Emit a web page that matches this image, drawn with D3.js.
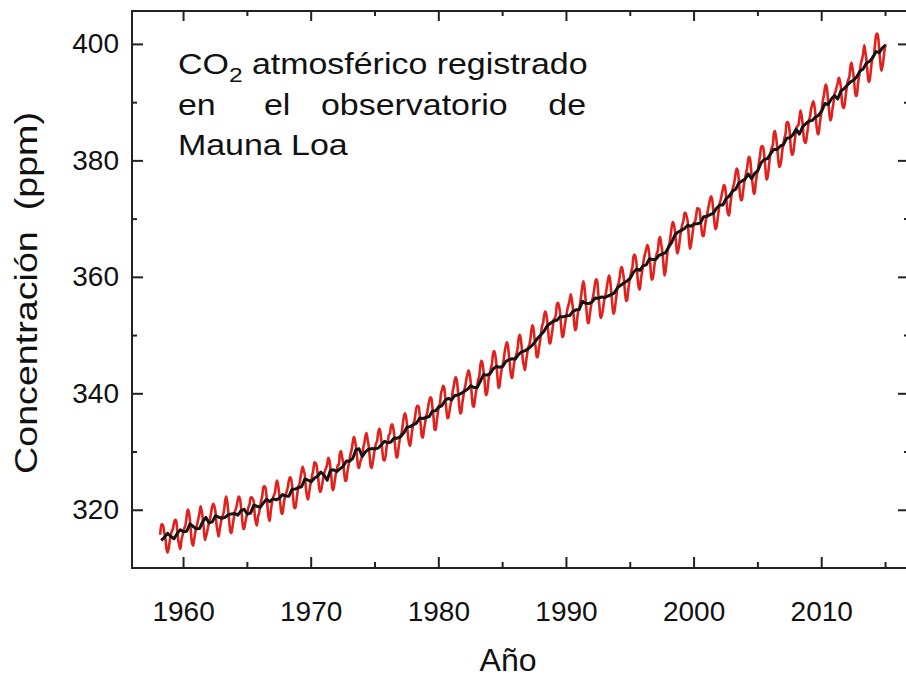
<!DOCTYPE html>
<html>
<head>
<meta charset="utf-8">
<script src="https://cdn.jsdelivr.net/npm/d3@7"></script>
<style>
  html, body { margin: 0; padding: 0; background: #fff; }
  svg { display: block; }
  text { font-family: "Liberation Sans", Arial, Helvetica, sans-serif; fill: #111; }
</style>
</head>
<body>
<svg id="chart" width="906" height="679"></svg>
<script>
// Mauna Loa monthly mean CO2 (ppm), one row per year, Jan..Dec
const firstYear = 1958;
const monthlyPpm = [
  [null, null, 315.71, 317.45, 317.50, 317.10, 315.86, 314.93, 313.20, 312.66, 313.33, 314.67],
  [315.62, 316.38, 316.71, 317.72, 318.29, 318.15, 316.54, 314.80, 313.84, 313.26, 314.80, 315.58],
  [316.43, 316.97, 317.58, 319.02, 320.03, 319.59, 318.18, 315.91, 314.16, 313.83, 315.00, 316.19],
  [316.93, 317.70, 318.54, 319.48, 320.58, 319.77, 318.57, 316.79, 314.80, 315.38, 316.10, 317.01],
  [317.94, 318.56, 319.68, 320.63, 321.01, 320.55, 319.58, 317.40, 316.26, 315.42, 316.69, 317.69],
  [318.74, 319.08, 319.86, 321.39, 322.25, 321.47, 319.74, 317.77, 316.21, 315.99, 317.12, 318.31],
  [319.57, 320.07, 320.73, 321.77, 322.25, 321.89, 320.44, 318.70, 316.70, 316.79, 317.79, 318.71],
  [319.44, 320.44, 320.89, 322.13, 322.16, 321.87, 321.39, 318.81, 317.81, 317.30, 318.87, 319.42],
  [320.62, 321.59, 322.39, 323.87, 324.01, 323.75, 322.39, 320.37, 318.64, 318.10, 319.79, 321.08],
  [322.07, 322.50, 323.04, 324.42, 325.00, 324.09, 322.55, 320.92, 319.31, 319.31, 320.72, 321.96],
  [322.57, 323.15, 323.89, 325.02, 325.57, 325.36, 324.14, 322.03, 320.41, 320.25, 321.31, 322.84],
  [324.00, 324.42, 325.64, 326.66, 327.38, 326.70, 325.89, 323.67, 322.38, 321.78, 322.85, 324.11],
  [325.03, 325.99, 326.87, 328.13, 328.07, 327.66, 326.35, 324.69, 323.10, 323.16, 323.98, 325.13],
  [326.17, 326.68, 327.18, 327.78, 328.92, 328.57, 327.34, 325.46, 323.36, 323.57, 324.80, 326.01],
  [326.77, 327.63, 327.75, 329.72, 330.07, 329.09, 328.05, 326.32, 324.93, 325.06, 326.50, 327.55],
  [328.54, 329.56, 330.30, 331.50, 332.48, 332.07, 330.87, 329.31, 327.51, 327.18, 328.16, 328.64],
  [329.35, 330.71, 331.48, 332.65, 333.16, 332.06, 330.99, 329.17, 327.41, 327.20, 328.33, 329.50],
  [330.68, 331.41, 331.85, 333.29, 333.91, 333.40, 331.78, 329.88, 328.57, 328.46, 329.26, 330.97],
  [331.71, 332.80, 333.10, 334.33, 334.66, 334.15, 332.92, 330.73, 328.98, 328.99, 330.42, 331.78],
  [332.75, 333.24, 334.53, 335.90, 336.57, 336.10, 334.76, 332.59, 331.42, 330.98, 332.24, 333.68],
  [334.80, 335.22, 336.47, 337.59, 337.84, 337.72, 336.37, 334.51, 332.60, 332.38, 333.75, 334.78],
  [336.05, 336.59, 337.79, 338.71, 339.30, 339.12, 337.56, 335.92, 333.75, 333.70, 335.12, 336.56],
  [337.84, 338.19, 339.91, 340.60, 341.29, 341.00, 339.39, 337.43, 335.72, 335.84, 336.93, 338.04],
  [339.06, 340.30, 341.21, 342.33, 342.74, 342.08, 340.32, 338.26, 336.52, 336.68, 338.19, 339.44],
  [340.57, 341.44, 342.53, 343.39, 343.96, 343.18, 341.88, 339.65, 337.81, 337.69, 339.09, 340.32],
  [341.20, 342.35, 342.93, 344.77, 345.58, 345.14, 343.81, 342.21, 339.69, 339.82, 340.98, 342.82],
  [343.52, 344.33, 345.11, 346.88, 347.25, 346.62, 345.22, 343.11, 340.90, 341.18, 342.80, 344.04],
  [344.79, 345.82, 347.25, 348.17, 348.74, 348.07, 346.38, 344.51, 342.92, 342.62, 344.06, 345.38],
  [346.11, 346.78, 347.68, 349.37, 350.03, 349.37, 347.76, 345.73, 344.68, 343.99, 345.48, 346.72],
  [347.84, 348.29, 349.23, 350.80, 351.66, 351.07, 349.33, 347.92, 346.27, 346.18, 347.64, 348.78],
  [350.25, 351.54, 352.05, 353.41, 354.04, 353.62, 352.22, 350.27, 348.55, 348.72, 349.91, 351.18],
  [352.60, 352.92, 353.53, 355.26, 355.52, 354.97, 353.75, 351.52, 349.64, 349.83, 351.14, 352.37],
  [353.50, 354.55, 355.23, 356.04, 357.00, 356.07, 354.67, 352.76, 350.82, 351.04, 352.69, 354.07],
  [354.59, 355.63, 357.03, 358.48, 359.22, 358.12, 356.06, 353.92, 352.05, 352.11, 353.64, 354.89],
  [355.88, 356.63, 357.72, 359.07, 359.58, 359.17, 356.94, 354.92, 352.94, 353.23, 354.09, 355.33],
  [356.63, 357.10, 358.32, 359.41, 360.23, 359.55, 357.53, 355.48, 353.67, 353.95, 355.30, 356.78],
  [358.34, 358.89, 359.95, 361.25, 361.67, 360.94, 359.55, 357.49, 355.84, 356.00, 357.59, 359.05],
  [359.98, 361.03, 361.66, 363.48, 363.82, 363.30, 361.94, 359.50, 358.11, 357.80, 359.61, 360.74],
  [362.09, 363.29, 364.06, 364.76, 365.45, 365.01, 363.70, 361.54, 359.51, 359.65, 360.80, 362.38],
  [363.23, 364.06, 364.61, 366.40, 366.84, 365.68, 364.52, 362.57, 360.24, 360.83, 362.49, 364.34],
  [365.27, 365.98, 367.24, 368.66, 369.42, 368.99, 367.82, 365.95, 364.02, 364.40, 365.52, 367.13],
  [368.18, 369.07, 369.68, 370.99, 370.96, 370.30, 369.45, 366.90, 364.81, 365.37, 366.72, 368.10],
  [369.29, 369.54, 370.60, 371.82, 371.58, 371.70, 369.86, 368.13, 367.00, 367.03, 368.37, 369.67],
  [370.59, 371.51, 372.43, 373.37, 373.85, 373.22, 371.50, 369.61, 368.18, 368.45, 369.76, 371.24],
  [372.53, 373.20, 374.12, 375.02, 375.76, 375.52, 374.01, 371.85, 370.75, 370.55, 372.25, 373.79],
  [374.88, 375.64, 376.45, 377.73, 378.60, 378.28, 376.70, 374.38, 373.17, 373.15, 374.66, 375.99],
  [377.00, 377.87, 378.88, 380.35, 380.62, 379.69, 377.47, 376.01, 374.25, 374.46, 376.16, 377.51],
  [378.46, 379.73, 380.77, 382.29, 382.45, 382.21, 380.74, 378.74, 376.70, 377.00, 378.35, 380.11],
  [381.38, 382.19, 382.67, 384.61, 385.03, 384.05, 382.46, 380.41, 378.85, 379.13, 380.15, 381.82],
  [382.89, 383.90, 384.58, 386.50, 386.56, 386.10, 384.50, 381.99, 380.96, 381.12, 382.45, 383.95],
  [385.52, 385.82, 386.03, 387.21, 388.54, 387.76, 386.36, 384.09, 383.18, 382.99, 384.19, 385.56],
  [386.94, 387.48, 388.82, 389.55, 390.14, 389.48, 388.03, 386.11, 384.74, 384.43, 386.02, 387.42],
  [388.71, 390.20, 391.17, 392.46, 393.00, 392.15, 390.20, 388.35, 386.85, 387.24, 388.67, 389.79],
  [391.33, 391.86, 392.60, 393.25, 394.19, 393.74, 392.51, 390.13, 389.08, 389.00, 390.28, 391.86],
  [393.12, 393.86, 394.40, 396.18, 396.74, 395.71, 394.36, 392.39, 391.11, 391.05, 392.98, 394.34],
  [395.55, 396.80, 397.43, 398.41, 399.78, 398.60, 397.32, 395.20, 393.45, 393.70, 395.16, 396.84],
  [397.85, 398.01, 399.77, 401.38, 401.78, 401.25, 399.10, 397.03, 395.38, 396.03, 397.28, 398.91],
  [399.98]
];

// Seasonally corrected trend (ppm), sampled in Jan, Apr, Jul and Oct of each year
const trendMonths = [0, 3, 6, 9];
const trendPpm = [
  [null, 314.75, 315.26, 315.96],
  [315.42, 315.02, 315.94, 316.56],
  [316.23, 316.32, 317.58, 317.13],
  [316.73, 316.78, 317.97, 318.68],
  [317.74, 317.93, 318.98, 318.72],
  [318.54, 318.69, 319.14, 319.29],
  [319.37, 319.07, 319.84, 320.09],
  [319.24, 319.43, 320.79, 320.60],
  [320.42, 321.17, 321.79, 321.40],
  [321.87, 321.72, 321.95, 322.61],
  [322.37, 322.32, 323.54, 323.55],
  [323.80, 323.96, 325.29, 325.08],
  [324.83, 325.43, 325.75, 326.46],
  [325.97, 325.08, 326.74, 326.87],
  [326.57, 327.02, 327.45, 328.36],
  [328.34, 328.80, 330.27, 330.48],
  [329.15, 329.95, 330.39, 330.50],
  [330.48, 330.59, 331.18, 331.76],
  [331.51, 331.63, 332.32, 332.29],
  [332.55, 333.20, 334.16, 334.28],
  [334.60, 334.89, 335.77, 335.68],
  [335.85, 336.01, 336.96, 337.00],
  [337.64, 337.90, 338.79, 339.14],
  [338.86, 339.63, 339.72, 339.98],
  [340.37, 340.69, 341.28, 340.99],
  [341.00, 342.07, 343.21, 343.12],
  [343.32, 344.18, 344.62, 344.48],
  [344.59, 345.47, 345.78, 345.92],
  [345.91, 346.67, 347.16, 347.29],
  [347.64, 348.10, 348.73, 349.48],
  [350.05, 350.71, 351.62, 352.02],
  [352.40, 352.56, 353.15, 353.13],
  [353.30, 353.34, 354.07, 354.34],
  [354.39, 355.78, 355.46, 355.41],
  [355.68, 356.37, 356.34, 356.53],
  [356.43, 356.71, 356.93, 357.25],
  [358.14, 358.55, 358.95, 359.30],
  [359.78, 360.78, 361.34, 361.10],
  [361.89, 362.06, 363.10, 362.95],
  [363.03, 363.70, 363.92, 364.13],
  [365.07, 365.96, 367.22, 367.70],
  [367.98, 368.29, 368.85, 368.67],
  [369.09, 369.12, 369.26, 370.33],
  [370.39, 370.67, 370.90, 371.75],
  [372.33, 372.32, 373.41, 373.85],
  [374.68, 375.03, 376.10, 376.45],
  [376.80, 377.65, 376.87, 377.76],
  [378.26, 379.59, 380.14, 380.30],
  [381.18, 381.91, 381.86, 382.43],
  [382.69, 383.80, 383.90, 384.42],
  [385.32, 384.51, 385.76, 386.29],
  [386.74, 386.85, 387.43, 387.73],
  [388.51, 389.76, 389.60, 390.54],
  [391.13, 390.55, 391.91, 392.30],
  [392.92, 393.48, 393.76, 394.35],
  [395.35, 395.71, 396.72, 397.00],
  [397.65, 398.68, 398.50, 399.33],
  [399.78]
];

const xMajorTicks = [1960, 1970, 1980, 1990, 2000, 2010];
const xMinorTicks = [1965, 1975, 1985, 1995, 2005, 2015];
const yMajorTicks = [320, 340, 360, 380, 400];
const yMinorTicks = [330, 350, 370, 390];

const svg = d3.select("#chart");
const frame = { left: 132, right: 908, top: 11, bottom: 568 };

const x = d3.scaleLinear().domain([1956, 2016.8]).range([frame.left, frame.right]);
const y = d3.scaleLinear().domain([310, 405.65]).range([frame.bottom, frame.top]);

// flatten the yearly rows into (time, value) points
const monthlyPoints = [];
monthlyPpm.forEach((row, i) => row.forEach((v, m) => {
  if (v != null) monthlyPoints.push({ t: firstYear + i + (m + 0.5) / 12, v });
}));
const trendPoints = [];
trendPpm.forEach((row, i) => row.forEach((v, q) => {
  if (v != null) trendPoints.push({ t: firstYear + i + (trendMonths[q] + 0.5) / 12, v });
}));

const plot = svg.append("g");
plot.append("path")
  .datum(monthlyPoints)
  .attr("fill", "none")
  .attr("stroke", "#e2211c")
  .attr("stroke-width", 2.6)
  .attr("stroke-linejoin", "round")
  .attr("d", d3.line().x(d => x(d.t)).y(d => y(d.v)).curve(d3.curveMonotoneX));

plot.append("path")
  .datum(trendPoints)
  .attr("fill", "none")
  .attr("stroke", "#141414")
  .attr("stroke-width", 3)
  .attr("stroke-linejoin", "round")
  .attr("d", d3.line().x(d => x(d.t)).y(d => y(d.v)).curve(d3.curveLinear));

// box frame
svg.append("rect")
  .attr("x", frame.left).attr("y", frame.top)
  .attr("width", frame.right - frame.left).attr("height", frame.bottom - frame.top)
  .attr("fill", "none").attr("stroke", "#222").attr("stroke-width", 2);

// inward-pointing ticks on all four sides
function styleAxis(g) {
  g.select(".domain").remove();
  g.selectAll(".tick line").attr("stroke", "#222").attr("stroke-width", 2);
  g.selectAll(".tick text")
    .attr("fill", "#0a0a0a")
    .style("font-family", '"Liberation Sans", Arial, Helvetica, sans-serif')
    .style("font-size", "28px");
}

svg.append("g").attr("transform", `translate(0,${frame.bottom})`)
  .call(d3.axisBottom(x).tickValues(xMajorTicks).tickSizeInner(-11).tickSizeOuter(0)
    .tickPadding(33).tickFormat(d3.format("d")))
  .call(styleAxis);
svg.append("g").attr("transform", `translate(0,${frame.bottom})`)
  .call(d3.axisBottom(x).tickValues(xMinorTicks).tickSizeInner(-6).tickSizeOuter(0).tickFormat(""))
  .call(styleAxis);
svg.append("g").attr("transform", `translate(0,${frame.top})`)
  .call(d3.axisTop(x).tickValues(xMajorTicks).tickSizeInner(-10).tickSizeOuter(0).tickFormat(""))
  .call(styleAxis);
svg.append("g").attr("transform", `translate(0,${frame.top})`)
  .call(d3.axisTop(x).tickValues(xMinorTicks).tickSizeInner(-5).tickSizeOuter(0).tickFormat(""))
  .call(styleAxis);

svg.append("g").attr("transform", `translate(${frame.left},0)`)
  .call(d3.axisLeft(y).tickValues(yMajorTicks).tickSizeInner(-11).tickSizeOuter(0)
    .tickPadding(13).tickFormat(d3.format("d")))
  .call(styleAxis);
svg.append("g").attr("transform", `translate(${frame.left},0)`)
  .call(d3.axisLeft(y).tickValues(yMinorTicks).tickSizeInner(-5).tickSizeOuter(0).tickFormat(""))
  .call(styleAxis);
svg.append("g").attr("transform", `translate(${frame.right},0)`)
  .call(d3.axisRight(y).tickValues(yMajorTicks).tickSizeInner(-10).tickSizeOuter(0).tickFormat(""))
  .call(styleAxis);
svg.append("g").attr("transform", `translate(${frame.right},0)`)
  .call(d3.axisRight(y).tickValues(yMinorTicks).tickSizeInner(-4).tickSizeOuter(0).tickFormat(""))
  .call(styleAxis);

// axis titles
svg.append("text")
  .attr("x", 508).attr("y", 671)
  .attr("text-anchor", "middle")
  .style("font-size", "32px")
  .text("Año");

svg.append("text")
  .attr("transform", "translate(37,293) rotate(-90)")
  .attr("text-anchor", "middle")
  .attr("textLength", 362)
  .attr("lengthAdjust", "spacingAndGlyphs")
  .style("font-size", "32px")
  .style("white-space", "pre")
  .text("Concentración  (ppm)");

// annotation
const note = svg.append("g").style("font-size", "29px");
const sx = 1.17;
const l1 = note.append("text").attr("transform", `translate(178,74) scale(${sx},1)`);
l1.append("tspan").text("CO");
l1.append("tspan").attr("dy", 8).style("font-size", "21px").text("2");
l1.append("tspan").attr("dy", -8).text(" atmosférico registrado");

const line2 = [
  { w: "en", x: 178, anchor: "start" },
  { w: "el", x: 264, anchor: "start" },
  { w: "observatorio", x: 321, anchor: "start" },
  { w: "de", x: 586, anchor: "end" }
];
line2.forEach(d => {
  note.append("text")
    .attr("transform", `translate(${d.x},115) scale(${sx},1)`)
    .attr("text-anchor", d.anchor)
    .text(d.w);
});
note.append("text").attr("transform", `translate(178,155) scale(${sx},1)`).text("Mauna Loa");
</script>
</body>
</html>
